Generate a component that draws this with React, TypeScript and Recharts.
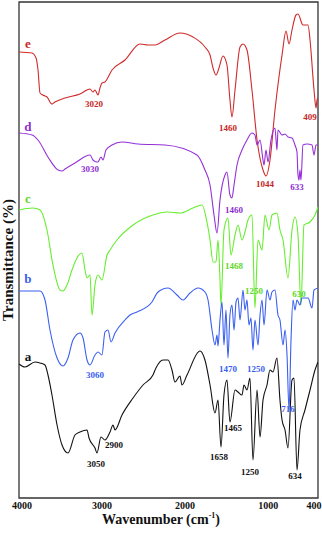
import React from "react";
import { LineChart, Line, XAxis, YAxis, ReferenceArea, ReferenceDot } from "recharts";

// wavenumber (cm-1) / transmittance (a.u., stacked offsets)
const waveE = [4000, 3843, 3795, 3771, 3747, 3687, 3663, 3603, 3567, 3446, 3266, 3145, 3109, 3085, 3049, 3025, 3001, 2965, 2880, 2724, 2543, 2447, 2363, 2242, 2062, 1905, 1761, 1700, 1664, 1628, 1592, 1544, 1496, 1460, 1436, 1399, 1339, 1303, 1255, 1195, 1134, 1062, 1026, 978, 918, 870, 833, 785, 749, 713, 665, 641, 581, 520, 496, 448, 424, 412, 400];
const transE = [446, 445, 440, 428, 405, 402, 401, 394, 396, 400, 404, 409, 406, 408, 403, 410, 415, 416, 428, 438, 454, 453, 453, 458, 465, 461, 451, 443, 430, 423, 430, 442, 433, 398, 381, 408, 451, 454, 448, 408, 358, 328, 322, 338, 388, 421, 443, 467, 454, 468, 483, 484, 473, 473, 458, 408, 390, 398, 400];

const waveD = [4000, 3843, 3771, 3651, 3530, 3482, 3446, 3326, 3145, 3109, 3061, 3049, 3013, 2989, 2953, 2880, 2760, 2567, 2242, 1857, 1761, 1700, 1652, 1616, 1580, 1520, 1496, 1460, 1436, 1411, 1375, 1315, 1255, 1195, 1159, 1134, 1098, 1062, 1050, 1026, 1002, 966, 918, 894, 882, 833, 797, 761, 713, 677, 653, 641, 629, 617, 605, 581, 533, 472, 448, 424, 400];
const transD = [365, 363, 358, 341, 328, 327, 329, 335, 343, 338, 336, 336, 341, 338, 348, 353, 356, 354, 353, 343, 328, 313, 283, 265, 298, 323, 326, 303, 300, 313, 333, 348, 358, 365, 363, 353, 358, 338, 333, 348, 336, 358, 370, 348, 368, 363, 364, 361, 360, 353, 346, 323, 318, 328, 318, 353, 354, 353, 343, 353, 353];

const waveC = [4000, 3831, 3747, 3663, 3591, 3506, 3470, 3422, 3362, 3302, 3241, 3205, 3181, 3145, 3121, 3085, 3049, 3001, 2940, 2904, 2820, 2627, 2387, 2218, 2062, 1905, 1797, 1737, 1700, 1664, 1628, 1604, 1580, 1568, 1532, 1484, 1448, 1399, 1363, 1315, 1279, 1243, 1195, 1159, 1122, 1074, 1038, 990, 954, 894, 858, 821, 761, 713, 677, 641, 605, 569, 496, 436, 400];
const transC = [288, 290, 288, 268, 233, 208, 207, 213, 228, 240, 245, 228, 220, 223, 183, 213, 223, 218, 243, 248, 258, 273, 283, 286, 285, 290, 293, 276, 258, 236, 236, 258, 218, 193, 268, 280, 243, 263, 273, 258, 266, 278, 283, 190, 258, 248, 283, 268, 283, 285, 268, 258, 220, 268, 281, 263, 193, 273, 276, 283, 291];

const waveB = [4000, 3747, 3687, 3627, 3542, 3470, 3410, 3350, 3266, 3229, 3181, 3145, 3085, 3049, 3001, 2965, 2928, 2892, 2844, 2724, 2664, 2579, 2399, 2326, 2206, 2098, 2025, 1941, 1845, 1761, 1724, 1676, 1640, 1616, 1604, 1580, 1556, 1532, 1508, 1484, 1460, 1436, 1411, 1387, 1363, 1339, 1303, 1279, 1255, 1231, 1207, 1183, 1159, 1122, 1098, 1074, 1050, 1014, 978, 954, 918, 882, 858, 821, 797, 773, 749, 725, 701, 677, 653, 617, 593, 520, 472, 448, 400];
const transB = [207, 207, 198, 168, 140, 132, 140, 158, 165, 160, 138, 133, 143, 146, 143, 166, 168, 156, 165, 178, 183, 186, 196, 206, 210, 203, 198, 205, 210, 206, 198, 168, 153, 163, 152, 178, 196, 153, 188, 140, 183, 193, 168, 196, 200, 178, 208, 188, 198, 173, 180, 148, 178, 153, 183, 198, 173, 208, 198, 206, 208, 183, 178, 153, 168, 143, 88, 158, 198, 188, 198, 193, 200, 200, 190, 208, 210];

const waveA = [4000, 3928, 3807, 3747, 3687, 3651, 3603, 3542, 3482, 3410, 3326, 3266, 3181, 3157, 3085, 3061, 3013, 2965, 2904, 2868, 2844, 2760, 2627, 2507, 2387, 2351, 2266, 2206, 2158, 2122, 2062, 2038, 1977, 1821, 1761, 1700, 1640, 1604, 1568, 1532, 1496, 1460, 1399, 1363, 1315, 1291, 1255, 1219, 1183, 1134, 1098, 1062, 1014, 978, 942, 894, 858, 833, 797, 761, 713, 689, 653, 617, 557, 496, 436, 400];
const transA = [134, 131, 136, 135, 133, 123, 103, 73, 53, 45, 63, 66, 68, 60, 50, 45, 61, 58, 66, 73, 68, 83, 100, 113, 123, 130, 138, 138, 128, 116, 122, 113, 123, 147, 138, 113, 85, 98, 51, 103, 118, 76, 108, 106, 103, 113, 108, 120, 38, 108, 61, 98, 113, 128, 126, 140, 98, 78, 68, 50, 118, 120, 28, 68, 88, 108, 128, 136];

const tickValues = [4000, 3000, 2000, 1000, 400];

const zip = (w: number[], t: number[]) => w.map((x, i) => ({ w: x, t: t[i] }));

const series = [
  { key: "e", data: zip(waveE, transE), color: "#d02a2a" },
  { key: "d", data: zip(waveD, transD), color: "#9430d8" },
  { key: "c", data: zip(waveC, transC), color: "#66ee2e" },
  { key: "b", data: zip(waveB, transB), color: "#3a5ff0" },
  { key: "a", data: zip(waveA, transA), color: "#111111" },
];

// curve letters and peak annotations, placed in data units
const curveLetters = [
  { text: "e", w: 3892, t: 455, color: "#c62828" },
  { text: "d", w: 3892, t: 372, color: "#8e2fd0" },
  { text: "c", w: 3892, t: 300, color: "#5fd82a" },
  { text: "b", w: 3892, t: 220, color: "#3a5ff0" },
  { text: "a", w: 3892, t: 142, color: "#111111" },
];

const peakLabels = [
  { text: "3020", w: 3097, t: 394, color: "#c62828" },
  { text: "1460", w: 1484, t: 370, color: "#c62828" },
  { text: "409", w: 496, t: 381, color: "#c62828" },
  { text: "3030", w: 3145, t: 329, color: "#8e2fd0" },
  { text: "1044", w: 1038, t: 314, color: "#c62828" },
  { text: "633", w: 653, t: 311, color: "#8e2fd0" },
  { text: "1460", w: 1411, t: 288, color: "#8e2fd0" },
  { text: "1468", w: 1411, t: 232, color: "#5fd82a" },
  { text: "1250", w: 1171, t: 207, color: "#5fd82a" },
  { text: "630", w: 629, t: 204, color: "#5fd82a" },
  { text: "3060", w: 3085, t: 123, color: "#3a5ff0" },
  { text: "1470", w: 1484, t: 129, color: "#3a5ff0" },
  { text: "1250", w: 1147, t: 129, color: "#3a5ff0" },
  { text: "716", w: 761, t: 89, color: "#3a5ff0" },
  { text: "3050", w: 3073, t: 34, color: "#111111" },
  { text: "2900", w: 2856, t: 53, color: "#111111" },
  { text: "1658", w: 1592, t: 41, color: "#111111" },
  { text: "1465", w: 1423, t: 70, color: "#111111" },
  { text: "1250", w: 1219, t: 26, color: "#111111" },
  { text: "634", w: 677, t: 22, color: "#111111" },
];

const serif = "Liberation Serif, Times New Roman, serif";

const WaveTick = (props: any) => {
  const { x, y, payload } = props;
  const dx = payload.value === 4000 ? 3 : payload.value === 400 ? -4 : 0;
  return (
    <text x={x + dx} y={y} dy="0.71em" textAnchor="middle" fontFamily={serif} fontWeight="bold" fontSize={10} fill="#111">
      {payload.value}
    </text>
  );
};

export default function App() {
  return (
    <div style={{ position: "absolute", left: 0, top: 0, width: 322, height: 534, background: "#fff" }}>
      <LineChart width={322} height={534} margin={{ top: 2, right: 4, left: 19, bottom: 18 }}>
        <XAxis
          type="number"
          dataKey="w"
          domain={[400, 4000]}
          reversed
          ticks={tickValues}
          interval={0}
          axisLine={false}
          tickLine={false}
          tickSize={2}
          height={18}
          tick={<WaveTick />}
          allowDataOverflow
        />
        <YAxis type="number" dataKey="t" domain={[0, 496]} hide allowDataOverflow />
        <ReferenceArea x1={4000} x2={400} y1={0} y2={496} fill="none" stroke="#333" strokeWidth={1.3} />
        {series.map((s) => (
          <Line
            key={s.key}
            data={s.data}
            dataKey="t"
            type="monotone"
            stroke={s.color}
            strokeWidth={1.1}
            dot={false}
            isAnimationActive={false}
          />
        ))}
        {curveLetters.map((l) => (
          <ReferenceDot
            key={"l" + l.text}
            x={l.w}
            y={l.t}
            r={0}
            stroke="none"
            label={{ value: l.text, position: "center", fill: l.color, fontSize: 13, fontWeight: "bold", fontFamily: serif }}
          />
        ))}
        {peakLabels.map((p, i) => (
          <ReferenceDot
            key={"p" + i}
            x={p.w}
            y={p.t}
            r={0}
            stroke="none"
            label={{ value: p.text, position: "center", fill: p.color, fontSize: 9, fontWeight: "bold", fontFamily: serif }}
          />
        ))}
      </LineChart>
      <div
        style={{
          position: "absolute",
          left: 0,
          top: 507,
          width: 322,
          textAlign: "center",
          fontFamily: serif,
          fontWeight: "bold",
          fontSize: 14,
          color: "#111",
          lineHeight: "18px",
        }}
      >
        Wavenumber (cm<sup style={{ fontSize: 8 }}>-1</sup>)
      </div>
      <div
        style={{
          position: "absolute",
          left: 8,
          top: 260,
          transform: "translate(-50%, -50%) rotate(-90deg)",
          whiteSpace: "nowrap",
          fontFamily: serif,
          fontWeight: "bold",
          fontSize: 15,
          color: "#111",
        }}
      >
        Transmittance (%)
      </div>
    </div>
  );
}
